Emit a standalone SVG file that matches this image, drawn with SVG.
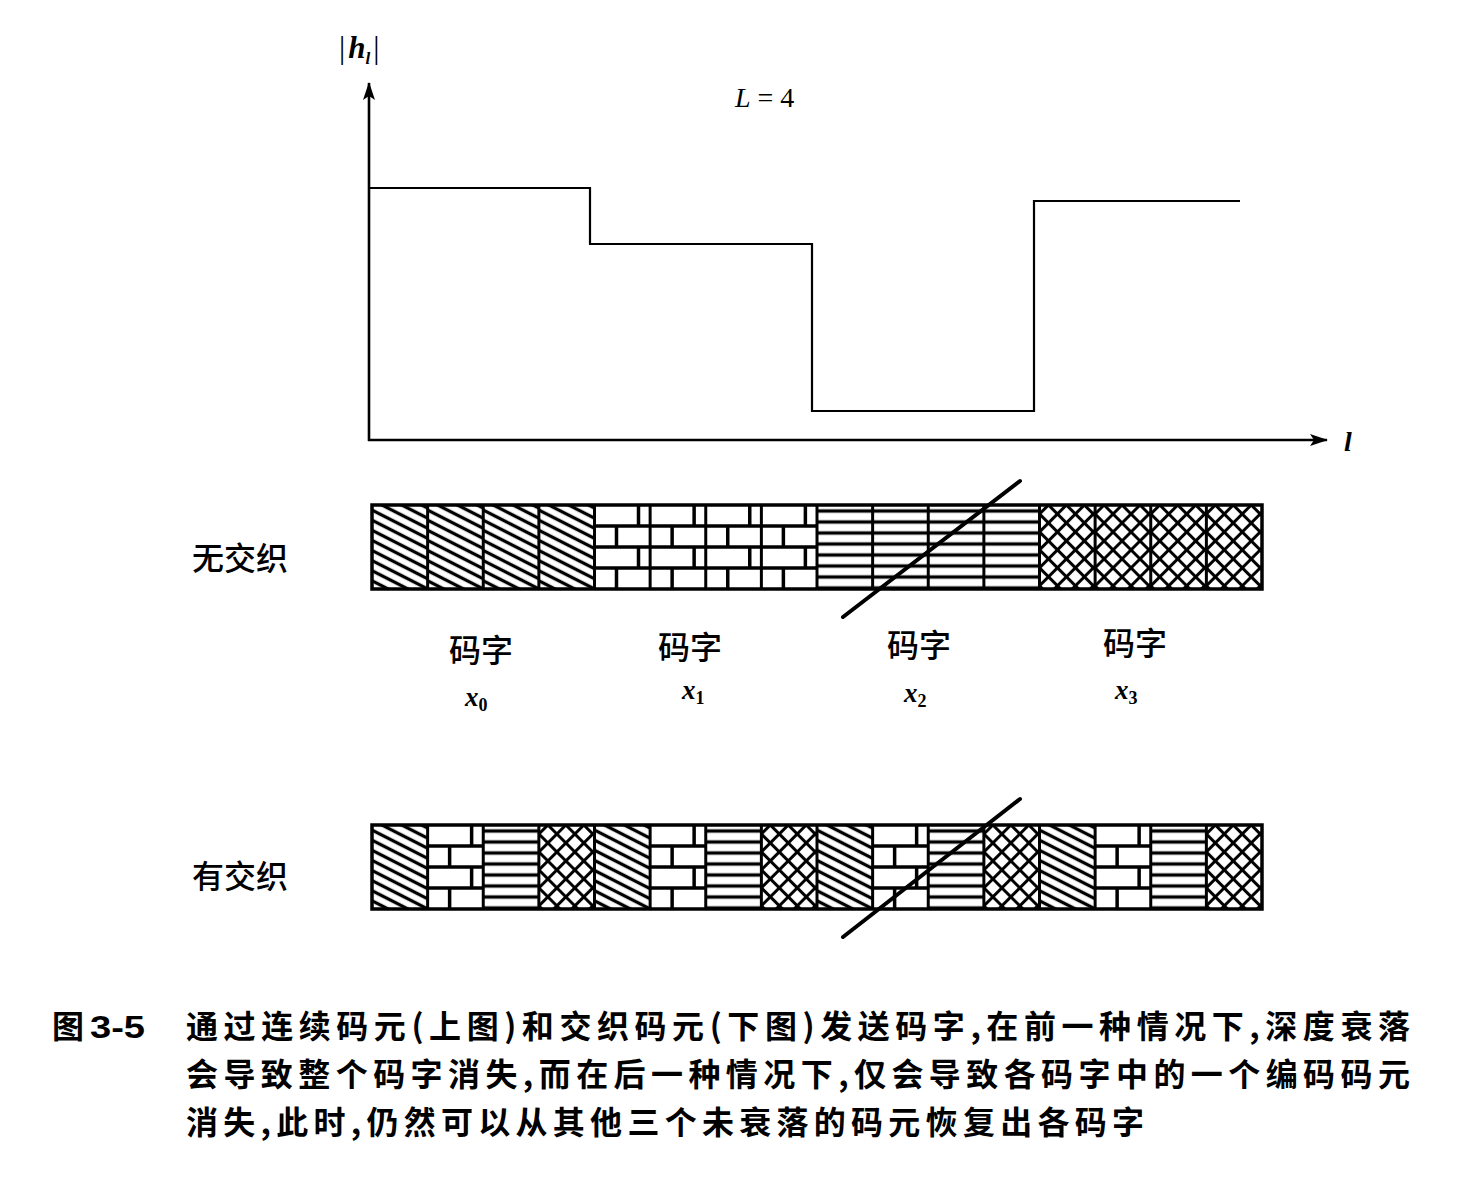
<svg xmlns="http://www.w3.org/2000/svg" xmlns:xlink="http://www.w3.org/1999/xlink" width="1472" height="1194" viewBox="0 0 1472 1194">
  <style>
    .axis { stroke: #000; stroke-width: 2.6; fill: none; }
    .step { stroke: #000; stroke-width: 2.2; fill: none; }
    .frame { stroke: #000; stroke-width: 3.5; fill: none; }
    .div { stroke: #000; stroke-width: 3; }
    .fade { stroke: #000; stroke-width: 4; stroke-linecap: round; }
    .serif { font-family: "Liberation Serif", "DejaVu Serif", serif; fill: #000; }
    .var { font-family: "Liberation Serif", "DejaVu Serif", serif; font-style: italic; font-weight: bold; fill: #000; }
    .cjk { font-family: "Noto Sans CJK SC", sans-serif; font-weight: 500; fill: #000; }
    .cap { font-family: "Noto Sans CJK SC", sans-serif; font-weight: bold; font-size: 32px; fill: #000; }
    .capnum { font-family: "Liberation Sans", "Noto Sans CJK SC", sans-serif; font-weight: bold; font-size: 31px; fill: #000; }
  </style>
  <defs>
    <marker id="arrow" viewBox="0 0 18 12" refX="17" refY="6" markerWidth="18" markerHeight="12" markerUnits="userSpaceOnUse" orient="auto">
      <path d="M0,0 L18,6 L0,12 L4,6 Z" fill="#000"/>
    </marker>
    <!-- fill patterns for the code-symbol cells -->
    <pattern id="pDiag" width="9" height="9" patternUnits="userSpaceOnUse" patternTransform="rotate(27)">
      <rect width="9" height="9" fill="#fff"/>
      <line x1="-1" y1="4.5" x2="10" y2="4.5" stroke="#000" stroke-width="3.3"/>
    </pattern>
    <pattern id="pHoriz" width="20" height="11" patternUnits="userSpaceOnUse" y="0.5">
      <rect width="20" height="11" fill="#fff"/>
      <line x1="0" y1="5.5" x2="20" y2="5.5" stroke="#000" stroke-width="3.4"/>
    </pattern>
    <pattern id="pCross" width="12.7" height="12.7" patternUnits="userSpaceOnUse" patternTransform="rotate(45)">
      <rect width="12.7" height="12.7" fill="#fff"/>
      <line x1="-1" y1="6.35" x2="13.7" y2="6.35" stroke="#000" stroke-width="3"/>
      <line x1="6.35" y1="-1" x2="6.35" y2="13.7" stroke="#000" stroke-width="3"/>
    </pattern>
    <!-- one cell of each kind, 55.625 x 84 -->
    <symbol id="cDiag" viewBox="0 0 55.625 84">
      <rect width="55.625" height="84" fill="url(#pDiag)"/>
    </symbol>
    <symbol id="cBrick" viewBox="0 0 55.625 84">
      <rect width="55.625" height="84" fill="#fff"/>
      <g stroke="#000" stroke-width="3.5">
        <line x1="0" y1="21" x2="55.625" y2="21"/>
        <line x1="0" y1="42" x2="55.625" y2="42"/>
        <line x1="0" y1="63" x2="55.625" y2="63"/>
        <line x1="44" y1="0" x2="44" y2="21"/>
        <line x1="22" y1="21" x2="22" y2="42"/>
        <line x1="44" y1="42" x2="44" y2="63"/>
        <line x1="22" y1="63" x2="22" y2="84"/>
      </g>
    </symbol>
    <symbol id="cHoriz" viewBox="0 0 55.625 84">
      <rect width="55.625" height="84" fill="url(#pHoriz)"/>
    </symbol>
    <symbol id="cCross" viewBox="0 0 55.625 84">
      <rect width="55.625" height="84" fill="url(#pCross)"/>
    </symbol>
  </defs>

  <rect width="1472" height="1194" fill="#fff"/>

  <!-- channel gain |h_l| over time -->
  <g id="plot">
    <line class="axis" x1="369" y1="441" x2="369" y2="83" marker-end="url(#arrow)"/>
    <line class="axis" x1="368" y1="440" x2="1327" y2="440" marker-end="url(#arrow)"/>
    <path class="step" d="M369,188 H590 V244 H812 V411 H1034 V201 H1240"/>
    <text class="serif" x="339" y="58" font-size="31">|<tspan class="var" dx="3">h</tspan><tspan class="var" font-size="17" dy="6">l</tspan><tspan dy="-6" dx="3">|</tspan></text>
    <text class="serif" x="735" y="107" font-size="28"><tspan font-style="italic">L</tspan> = 4</text>
    <text class="serif" x="1344" y="451" font-size="28" font-style="italic" font-weight="bold">l</text>
  </g>

  <!-- without interleaving: each codeword in consecutive symbols -->
  <g id="bar-plain">
    <use href="#cDiag" x="372" y="505" width="55.625" height="84"/>
    <use href="#cDiag" x="427.625" y="505" width="55.625" height="84"/>
    <use href="#cDiag" x="483.25" y="505" width="55.625" height="84"/>
    <use href="#cDiag" x="538.875" y="505" width="55.625" height="84"/>
    <use href="#cBrick" x="594.5" y="505" width="55.625" height="84"/>
    <use href="#cBrick" x="650.125" y="505" width="55.625" height="84"/>
    <use href="#cBrick" x="705.75" y="505" width="55.625" height="84"/>
    <use href="#cBrick" x="761.375" y="505" width="55.625" height="84"/>
    <use href="#cHoriz" x="817" y="505" width="55.625" height="84"/>
    <use href="#cHoriz" x="872.625" y="505" width="55.625" height="84"/>
    <use href="#cHoriz" x="928.25" y="505" width="55.625" height="84"/>
    <use href="#cHoriz" x="983.875" y="505" width="55.625" height="84"/>
    <use href="#cCross" x="1039.5" y="505" width="55.625" height="84"/>
    <use href="#cCross" x="1095.125" y="505" width="55.625" height="84"/>
    <use href="#cCross" x="1150.75" y="505" width="55.625" height="84"/>
    <use href="#cCross" x="1206.375" y="505" width="55.625" height="84"/>
    <g class="div">
      <line x1="427.625" y1="505" x2="427.625" y2="589"/>
      <line x1="483.25" y1="505" x2="483.25" y2="589"/>
      <line x1="538.875" y1="505" x2="538.875" y2="589"/>
      <line x1="594.5" y1="505" x2="594.5" y2="589"/>
      <line x1="650.125" y1="505" x2="650.125" y2="589"/>
      <line x1="705.75" y1="505" x2="705.75" y2="589"/>
      <line x1="761.375" y1="505" x2="761.375" y2="589"/>
      <line x1="817" y1="505" x2="817" y2="589"/>
      <line x1="872.625" y1="505" x2="872.625" y2="589"/>
      <line x1="928.25" y1="505" x2="928.25" y2="589"/>
      <line x1="983.875" y1="505" x2="983.875" y2="589"/>
      <line x1="1039.5" y1="505" x2="1039.5" y2="589"/>
      <line x1="1095.125" y1="505" x2="1095.125" y2="589"/>
      <line x1="1150.75" y1="505" x2="1150.75" y2="589"/>
      <line x1="1206.375" y1="505" x2="1206.375" y2="589"/>
    </g>
    <rect class="frame" x="372" y="505" width="890" height="84"/>
    <line class="fade" x1="843" y1="617" x2="1020" y2="481"/>
    <text class="cjk" x="192" y="570" font-size="32" textLength="96" lengthAdjust="spacing">无交织</text>
  </g>

  <!-- codeword labels -->
  <g id="codewords">
    <text class="cjk" x="481" y="662" font-size="32" text-anchor="middle">码字</text>
    <text class="cjk" x="690" y="659" font-size="32" text-anchor="middle">码字</text>
    <text class="cjk" x="919" y="657" font-size="32" text-anchor="middle">码字</text>
    <text class="cjk" x="1135" y="655" font-size="32" text-anchor="middle">码字</text>
    <text class="var" x="465" y="706" font-size="27">x<tspan font-style="normal" font-size="18" dy="5">0</tspan></text>
    <text class="var" x="682" y="699" font-size="27">x<tspan font-style="normal" font-size="18" dy="5">1</tspan></text>
    <text class="var" x="904" y="702" font-size="27">x<tspan font-style="normal" font-size="18" dy="5">2</tspan></text>
    <text class="var" x="1115" y="699" font-size="27">x<tspan font-style="normal" font-size="18" dy="5">3</tspan></text>
  </g>

  <!-- with interleaving: symbols of the four codewords alternate -->
  <g id="bar-interleaved">
    <use href="#cDiag" x="372" y="825" width="55.625" height="84"/>
    <use href="#cBrick" x="427.625" y="825" width="55.625" height="84"/>
    <use href="#cHoriz" x="483.25" y="825" width="55.625" height="84"/>
    <use href="#cCross" x="538.875" y="825" width="55.625" height="84"/>
    <use href="#cDiag" x="594.5" y="825" width="55.625" height="84"/>
    <use href="#cBrick" x="650.125" y="825" width="55.625" height="84"/>
    <use href="#cHoriz" x="705.75" y="825" width="55.625" height="84"/>
    <use href="#cCross" x="761.375" y="825" width="55.625" height="84"/>
    <use href="#cDiag" x="817" y="825" width="55.625" height="84"/>
    <use href="#cBrick" x="872.625" y="825" width="55.625" height="84"/>
    <use href="#cHoriz" x="928.25" y="825" width="55.625" height="84"/>
    <use href="#cCross" x="983.875" y="825" width="55.625" height="84"/>
    <use href="#cDiag" x="1039.5" y="825" width="55.625" height="84"/>
    <use href="#cBrick" x="1095.125" y="825" width="55.625" height="84"/>
    <use href="#cHoriz" x="1150.75" y="825" width="55.625" height="84"/>
    <use href="#cCross" x="1206.375" y="825" width="55.625" height="84"/>
    <g class="div">
      <line x1="427.625" y1="825" x2="427.625" y2="909"/>
      <line x1="483.25" y1="825" x2="483.25" y2="909"/>
      <line x1="538.875" y1="825" x2="538.875" y2="909"/>
      <line x1="594.5" y1="825" x2="594.5" y2="909"/>
      <line x1="650.125" y1="825" x2="650.125" y2="909"/>
      <line x1="705.75" y1="825" x2="705.75" y2="909"/>
      <line x1="761.375" y1="825" x2="761.375" y2="909"/>
      <line x1="817" y1="825" x2="817" y2="909"/>
      <line x1="872.625" y1="825" x2="872.625" y2="909"/>
      <line x1="928.25" y1="825" x2="928.25" y2="909"/>
      <line x1="983.875" y1="825" x2="983.875" y2="909"/>
      <line x1="1039.5" y1="825" x2="1039.5" y2="909"/>
      <line x1="1095.125" y1="825" x2="1095.125" y2="909"/>
      <line x1="1150.75" y1="825" x2="1150.75" y2="909"/>
      <line x1="1206.375" y1="825" x2="1206.375" y2="909"/>
    </g>
    <rect class="frame" x="372" y="825" width="890" height="84"/>
    <line class="fade" x1="843" y1="937" x2="1020" y2="799"/>
    <text class="cjk" x="192" y="888" font-size="32" textLength="96" lengthAdjust="spacing">有交织</text>
  </g>

  <!-- figure caption -->
  <g id="caption">
    <text class="cap" x="52" y="1038">图</text>
    <text class="capnum" x="90" y="1038" textLength="55" lengthAdjust="spacingAndGlyphs">3-5</text>
    <text class="cap" x="186" y="1038" textLength="1224" lengthAdjust="spacing">通过连续码元(上图)和交织码元(下图)发送码字,在前一种情况下,深度衰落</text>
    <text class="cap" x="186" y="1086" textLength="1224" lengthAdjust="spacing">会导致整个码字消失,而在后一种情况下,仅会导致各码字中的一个编码码元</text>
    <text class="cap" x="186" y="1134" textLength="958" lengthAdjust="spacing">消失,此时,仍然可以从其他三个未衰落的码元恢复出各码字</text>
  </g>
</svg>
